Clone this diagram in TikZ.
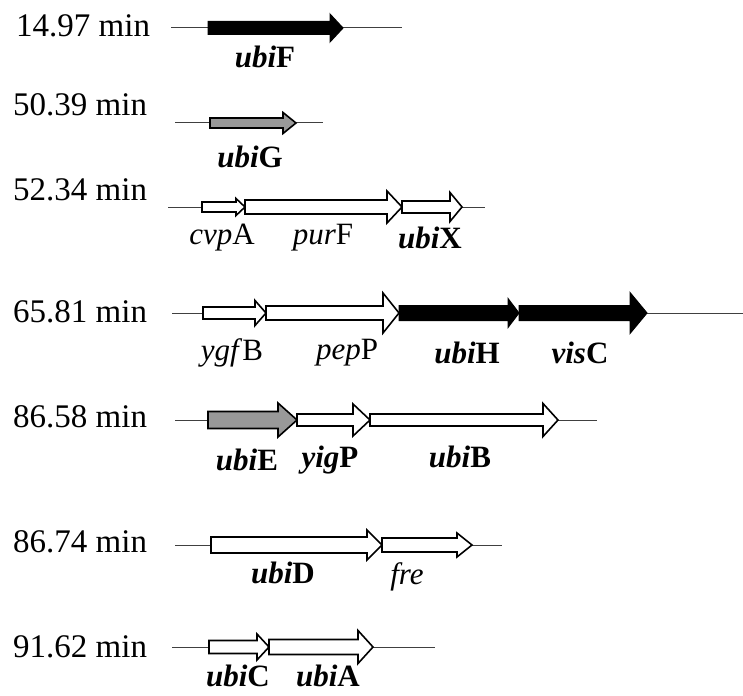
\documentclass[tikz,border=0pt]{standalone}
\usepackage{fontspec}
\setmainfont{Liberation Serif}

% gene arrow: style, y, start, head base, tip, body half height, head half height
\newcommand{\genearrow}[7]{%
  \draw[#1] (#3,#2-#6) -- (#4,#2-#6) -- (#4,#2-#7) -- (#5,#2) -- (#4,#2+#7)
    -- (#4,#2+#6) -- (#3,#2+#6) -- cycle;}

\tikzset{
  backbone/.style={draw=black!75, line width=1pt},
  whitegene/.style={draw=black, line width=1.6pt, fill=white, line join=miter},
  blackgene/.style={draw=black, line width=1pt, fill=black},
  graygene/.style={draw=black, line width=1.6pt, fill=black!40},
  rowlabel/.style={anchor=west, inner sep=0pt, font=\fontsize{33}{38}\selectfont},
  genelabel/.style={inner sep=0pt, font=\fontsize{31}{36}\selectfont}
}

\begin{document}
\begin{tikzpicture}[x=1pt,y=-1pt]
    \useasboundingbox (0,0) rectangle (743,695);
    % 14.97 min
    \node[rowlabel] (r1) at (16,26) {14.97 min};
    \coordinate (b1s) at (171,28); \coordinate (b1e) at (402,28);
    \draw[backbone] (b1s) -- (b1e);
    \genearrow{blackgene}{28}{208}{330}{343}{6.5}{14}
    \node[genelabel] (ubiF) at (265,57) {\textbf{\textit{ubi}F}};
    % 50.39 min
    \node[rowlabel] (r2) at (13,105) {50.39 min};
    \coordinate (b2s) at (175,123); \coordinate (b2e) at (323,123);
    \draw[backbone] (b2s) -- (b2e);
    \genearrow{graygene}{123}{210}{283}{296}{5}{10.5}
    \node[genelabel] (ubiG) at (250,157) {\textbf{\textit{ubi}G}};
    % 52.34 min
    \node[rowlabel] (r3) at (13,190) {52.34 min};
    \coordinate (b3s) at (168,207); \coordinate (b3e) at (485,207);
    \draw[backbone] (b3s) -- (b3e);
    \genearrow{whitegene}{207}{202}{236}{245}{5}{8.5}
    \genearrow{whitegene}{207}{245}{387}{402}{7}{16}
    \genearrow{whitegene}{207}{402}{450}{462}{6}{14.5}
    \node[genelabel] (cvpA) at (222,238) {\textit{cvp}A};
    \node[genelabel] (purF) at (323,238) {\textit{pur}F};
    \node[genelabel] (ubiX) at (430,238) {\textbf{\textit{ubi}X}};
    % 65.81 min
    \node[rowlabel] (r4) at (13,312) {65.81 min};
    \coordinate (b4s) at (172,313); \coordinate (b4e) at (743,313);
    \draw[backbone] (b4s) -- (b4e);
    \genearrow{whitegene}{313}{203}{255}{266}{6}{12.5}
    \genearrow{whitegene}{313}{266}{383}{399}{7}{20}
    \genearrow{blackgene}{313}{399}{508}{519}{7.5}{14.5}
    \genearrow{blackgene}{313}{519}{630}{647}{7.5}{20.5}
    \node[genelabel] (ygfB) at (232,353) {\textit{ygf}B};
    \node[genelabel] (pepP) at (347,353) {\textit{pep}P};
    \node[genelabel] (ubiH) at (467,353) {\textbf{\textit{ubi}H}};
    \node[genelabel] (visC) at (580,353) {\textbf{\textit{vis}C}};
    % 86.58 min
    \node[rowlabel] (r5) at (13,417) {86.58 min};
    \coordinate (b5s) at (175,420); \coordinate (b5e) at (597,420);
    \draw[backbone] (b5s) -- (b5e);
    \genearrow{graygene}{420}{208}{278}{297}{8.5}{17}
    \genearrow{whitegene}{420}{297}{353}{370}{6}{16}
    \genearrow{whitegene}{420}{370}{543}{558}{6}{16.5}
    \node[genelabel] (ubiE) at (247,460) {\textbf{\textit{ubi}E}};
    \node[genelabel] (yigP) at (330,460) {\textbf{\textit{yig}P}};
    \node[genelabel] (ubiB) at (460,457) {\textbf{\textit{ubi}B}};
    % 86.74 min
    \node[rowlabel] (r6) at (13,542) {86.74 min};
    \coordinate (b6s) at (175,545); \coordinate (b6e) at (502,545);
    \draw[backbone] (b6s) -- (b6e);
    \genearrow{whitegene}{545}{211}{367}{382}{8}{15}
    \genearrow{whitegene}{545}{382}{457}{472}{7}{12}
    \node[genelabel] (ubiD) at (283,573) {\textbf{\textit{ubi}D}};
    \node[genelabel] (fre) at (407,577) {\textit{fre}};
    % 91.62 min
    \node[rowlabel] (r7) at (13,647) {91.62 min};
    \coordinate (b7s) at (172,647); \coordinate (b7e) at (435,647);
    \draw[backbone] (b7s) -- (b7e);
    \genearrow{whitegene}{647}{209}{257}{269}{6.5}{13}
    \genearrow{whitegene}{647}{269}{358}{373}{7.5}{16.5}
    \node[genelabel] (ubiC) at (238,676) {\textbf{\textit{ubi}C}};
    \node[genelabel] (ubiA) at (328,676) {\textbf{\textit{ubi}A}};
\end{tikzpicture}
\end{document}
